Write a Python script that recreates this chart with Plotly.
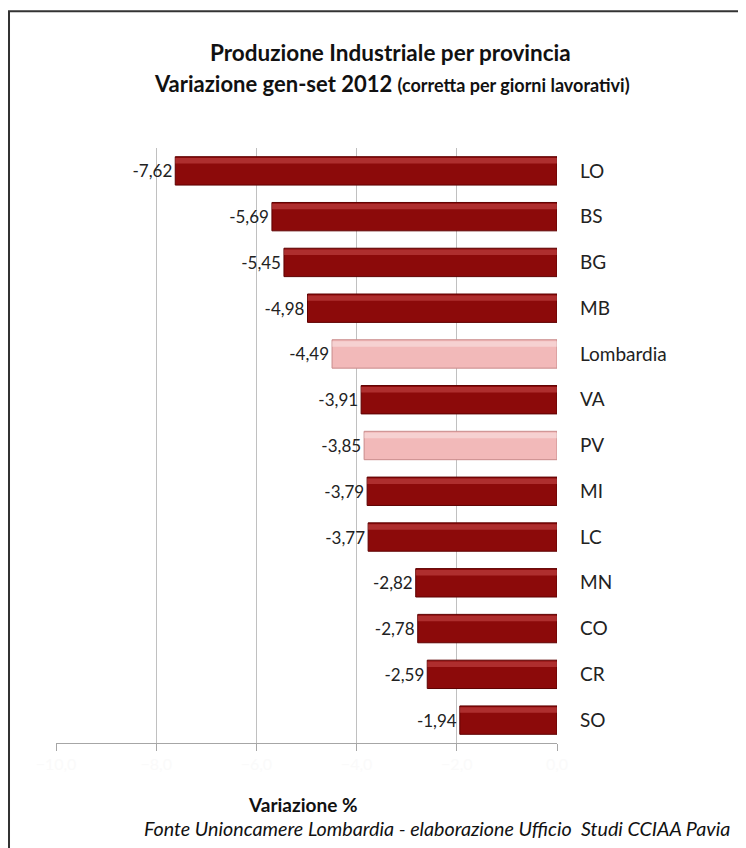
import plotly.graph_objects as go

provinces = ["LO", "BS", "BG", "MB", "Lombardia", "VA", "PV", "MI", "LC", "MN", "CO", "CR", "SO"]
values = [-7.62, -5.69, -5.45, -4.98, -4.49, -3.91, -3.85, -3.79, -3.77, -2.82, -2.78, -2.59, -1.94]
highlight = ["Lombardia", "PV"]
labels = [f"{v:.2f}".replace(".", ",") for v in values]

dark = "#8c0a0a"
light = "#f2b9b9"
colors = [light if p in highlight else dark for p in provinces]
edge = ["#c98a8a" if p in highlight else "#5e0000" for p in provinces]
shine = ["rgba(255,255,255,0.35)" if p in highlight else "rgba(225,100,100,0.40)" for p in provinces]

FONT = "Lato, Open Sans, sans-serif"

fig = go.Figure()
fig.add_trace(go.Bar(
    y=provinces, x=values, orientation="h",
    marker=dict(color=colors, line=dict(color=edge, width=1)),
    width=0.62,
    text=labels, texttemplate="%{text}", textposition="outside",
    textfont=dict(family=FONT, size=17, color="#222222"),
    cliponaxis=False, hoverinfo="skip", showlegend=False,
))
fig.add_trace(go.Bar(
    y=provinces, x=values, orientation="h",
    marker=dict(color=shine, line=dict(width=0)),
    width=0.12, offset=-0.28,
    hoverinfo="skip", showlegend=False,
))

fig.update_layout(
    width=746, height=848,
    margin=dict(l=48, r=197, t=140, b=113),
    paper_bgcolor="white", plot_bgcolor="white",
    barmode="overlay",
    separators=",.",
    font=dict(family=FONT, color="#222222"),
    xaxis=dict(
        range=[-10, 0], dtick=2, tick0=-10,
        showgrid=True, gridcolor="#c0c0c0", gridwidth=1,
        zeroline=False,
        showline=True, linecolor="#a6a6a6", linewidth=1,
        ticks="outside", ticklen=7, tickcolor="#a6a6a6",
        tickformat=".1f",
        tickfont=dict(size=16, color="#fafafa"),
        fixedrange=True,
    ),
    yaxis=dict(
        categoryorder="array", categoryarray=provinces,
        autorange="reversed",
        side="right", showgrid=False, zeroline=False, showline=False,
        ticks="", ticklabelstandoff=22,
        tickfont=dict(size=19, color="#222222"),
    ),
    shapes=[
        dict(type="rect", xref="paper", yref="paper",
             x0=-0.0938, x1=1.5, y0=-0.3, y1=1.230,
             line=dict(color="#333333", width=2), fillcolor="rgba(0,0,0,0)", layer="below"),
    ],
    annotations=[
        dict(text="<b>Produzione Industriale per provincia</b>", xref="paper", yref="paper",
             x=0.667, y=1.161, xanchor="center", yanchor="middle", showarrow=False,
             font=dict(size=22.5, color="#111111")),
        dict(text="<b>Variazione gen-set 2012 </b><b><span style='font-size:18px'>(corretta per giorni lavorativi)</span></b>",
             xref="paper", yref="paper", x=0.671, y=1.109, xanchor="center", yanchor="middle",
             showarrow=False, font=dict(size=22, color="#111111")),
        dict(text="<b>Variazione %</b>", xref="paper", yref="paper",
             x=0.493, y=-0.104, xanchor="center", yanchor="middle", showarrow=False,
             font=dict(size=19, color="#111111")),
        dict(text="<i>Fonte Unioncamere Lombardia - elaborazione Ufficio  Studi CCIAA Pavia</i>",
             xref="paper", yref="paper", x=1.349, y=-0.1445, xanchor="right", yanchor="middle",
             showarrow=False, font=dict(size=19.7, color="#111111")),
    ],
)

fig.write_html("out.html")
